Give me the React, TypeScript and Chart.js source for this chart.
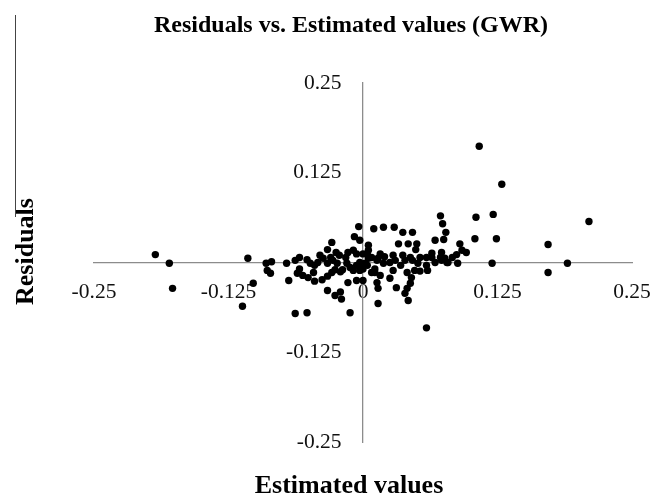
import React, { useEffect, useRef } from "react";
import { Chart, registerables } from "chart.js";

Chart.register(...registerables);

const chartTitle = "Residuals vs. Estimated values (GWR)";
const xTitle = "Estimated values";
const yTitle = "Residuals";

const xTicks = [-0.25, -0.125, 0, 0.125, 0.25];
const yTicks = [-0.25, -0.125, 0, 0.125, 0.25];

const estimated = [
  -0.193, -0.18, -0.177, -0.112, -0.107, -0.102, -0.09, -0.085, -0.089, -0.086,
  -0.071, -0.069, -0.063, -0.052, -0.012, -0.059, -0.063, -0.052, -0.049, -0.045,
  -0.042, -0.037, -0.033, -0.033, -0.025, -0.022, -0.03, -0.028, -0.024, -0.029,
  -0.014, -0.009, -0.006, 0.0, 0.005, -0.061, -0.059, -0.056, -0.051, -0.046,
  -0.045, -0.038, -0.033, -0.029, -0.026, -0.021, -0.019, -0.015, -0.012, -0.009,
  -0.006, -0.003, -0.003, 0.0, 0.004, 0.008, 0.011, -0.014, -0.006, -0.033,
  -0.026, -0.021, -0.02, -0.004, -0.008, -0.003, 0.005, 0.01, 0.019, 0.029,
  0.037, 0.046, 0.033, 0.042, 0.05, 0.049, 0.072, 0.074, 0.077, 0.075,
  0.067, 0.09, 0.092, 0.096, 0.087, 0.083, 0.004, 0.005, 0.002, 0.016,
  0.02, 0.014, 0.019, 0.025, 0.03, 0.028, 0.037, 0.039, 0.044, 0.046,
  0.051, 0.048, 0.053, 0.059, 0.06, 0.064, 0.067, 0.072, 0.073, 0.076,
  0.079, 0.088, 0.011, 0.016, 0.013, 0.014, 0.014, 0.028, 0.025, 0.031,
  0.041, 0.045, 0.044, 0.041, 0.039, 0.042, 0.0, 0.059, 0.108, 0.129,
  0.21, 0.105, 0.121, 0.104, 0.124, 0.172, 0.19, 0.172, 0.12, 0.053,
  0.064, 0.059, 0.073, 0.078, -0.001, 0.008, 0.013, -0.016, -0.04, 0.035,
];

const residuals = [
  0.011, -0.001, -0.036, -0.061, 0.006, -0.029, -0.001, 0.001, -0.011, -0.015,
  -0.001, -0.025, -0.071, -0.07, -0.07, 0.007, 0.003, 0.004, -0.001, -0.004,
  0.0, 0.006, -0.001, 0.018, 0.014, 0.01, 0.007, 0.003, -0.001, 0.028,
  0.014, 0.017, 0.012, 0.012, 0.017, -0.015, -0.009, -0.018, -0.021, -0.014,
  -0.026, -0.024, -0.019, -0.014, -0.01, -0.013, -0.01, -0.001, -0.007, -0.011,
  -0.004, 0.0, -0.011, -0.009, -0.004, -0.014, -0.009, -0.028, -0.025, -0.039,
  -0.046, -0.041, -0.051, 0.05, 0.036, 0.031, 0.024, 0.047, 0.049, 0.049,
  0.042, 0.042, 0.026, 0.026, 0.026, 0.018, 0.065, 0.054, 0.042, 0.032,
  0.031, 0.026, 0.017, 0.014, 0.011, 0.007, 0.012, 0.006, -0.001, 0.012,
  0.008, 0.006, -0.001, 0.0, 0.003, 0.01, 0.01, 0.003, 0.007, 0.003,
  -0.001, -0.011, -0.012, -0.004, -0.011, 0.007, 0.0, 0.007, 0.014, 0.006,
  0.0, -0.001, -0.014, -0.018, -0.028, -0.036, -0.057, -0.011, -0.022, -0.035,
  -0.014, -0.021, -0.029, -0.036, -0.043, -0.053, -0.025, -0.091, 0.162, 0.109,
  0.057, 0.063, 0.067, 0.033, 0.033, 0.025, -0.001, -0.014, -0.001, 0.007,
  0.013, 0.007, 0.003, 0.0, -0.007, 0.007, 0.003, 0.007, 0.01, -0.004,
];

const fmt = (v: number) => String(Number(v.toFixed(3)));

const titlesPlugin = {
  id: "titlesPlugin",
  afterDraw(chart: any) {
    const ctx = chart.ctx as CanvasRenderingContext2D;
    ctx.save();
    ctx.fillStyle = "#000";
    ctx.textAlign = "center";
    ctx.textBaseline = "alphabetic";
    ctx.font = 'bold 24px "Liberation Serif"';
    ctx.fillText(chartTitle, 351, 32);
    ctx.font = 'bold 26px "Liberation Serif"';
    ctx.fillText(xTitle, 349, 493);
    ctx.translate(33, 251.5);
    ctx.rotate(-Math.PI / 2);
    ctx.fillText(yTitle, 0, 0);
    ctx.restore();
  },
};

export default function App() {
  const ref = useRef<HTMLCanvasElement | null>(null);

  useEffect(() => {
    if (!ref.current) return;
    const points = estimated.map((x, i) => ({ x, y: residuals[i] }));
    const tickFont = { family: '"Liberation Serif"', size: 21.5 };
    const chart = new Chart(ref.current, {
      type: "scatter",
      data: {
        datasets: [
          {
            data: points,
            backgroundColor: "#000",
            borderColor: "#000",
            borderWidth: 0,
            pointRadius: 3.7,
            pointHoverRadius: 3.7,
          },
        ],
      },
      options: {
        animation: false,
        responsive: true,
        maintainAspectRatio: false,
        layout: { padding: { left: 94, right: 37, top: 83, bottom: 57 } },
        plugins: {
          legend: { display: false },
          title: { display: false },
          tooltip: { enabled: false },
        },
        scales: {
          x: {
            type: "linear",
            min: -0.25,
            max: 0.25,
            position: { y: 0 } as any,
            grid: { display: false, drawTicks: false },
            border: { display: true, color: "#8c8c8c", width: 1.3 },
            afterBuildTicks: (s: any) => {
              s.ticks = xTicks.map((v) => ({ value: v }));
            },
            ticks: {
              color: "#111",
              font: tickFont,
              padding: 17,
              maxRotation: 0,
              autoSkip: false,
              callback: (v: any) => fmt(Number(v)),
            },
          },
          y: {
            type: "linear",
            min: -0.25,
            max: 0.25,
            position: { x: 0 } as any,
            grid: { display: false, drawTicks: false },
            border: { display: true, color: "#8c8c8c", width: 1.3 },
            afterBuildTicks: (s: any) => {
              s.ticks = yTicks.map((v) => ({ value: v }));
            },
            ticks: {
              color: "#111",
              font: tickFont,
              padding: 21,
              autoSkip: false,
              // trailing em space keeps the right-aligned label clear of the axis line
              callback: (v: any) =>
                Number(v) === 0 ? "" : fmt(Number(v)) + "\u2003",
            },
          },
        },
      },
      plugins: [titlesPlugin],
    });
    return () => chart.destroy();
  }, []);

  return (
    <div
      style={{
        position: "fixed",
        left: 0,
        top: 0,
        width: 669,
        height: 499,
        background: "#fff",
      }}
    >
      <canvas ref={ref} />
      <div
        style={{
          position: "absolute",
          left: 15,
          top: 15,
          width: 1,
          height: 202,
          background: "#444",
        }}
      />
    </div>
  );
}
